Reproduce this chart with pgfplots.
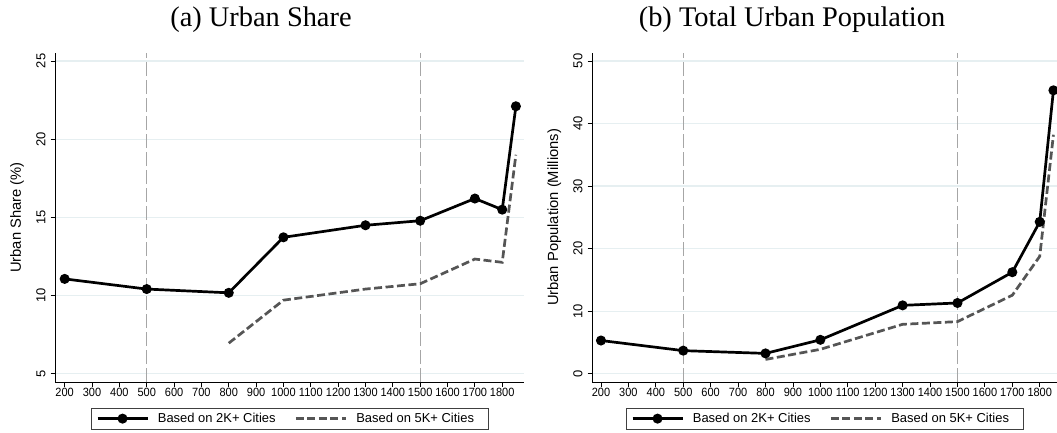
\documentclass[border=0pt]{standalone}
\usepackage{fontspec}
\setmainfont{Liberation Sans}
\newfontfamily\titlefont{Liberation Serif}
\usepackage{pgfplots}
\pgfplotsset{compat=1.18}
\definecolor{gridc}{HTML}{E6EFF1}
\definecolor{vlinec}{HTML}{A6A6A6}
\definecolor{dashc}{HTML}{555555}
\pgfplotsset{
  mystyle/.style={
    scale only axis,
    axis x line*=bottom, axis y line*=left,
    axis line style={black, line width=0.8bp},
    tick align=outside, major tick length=4.5bp,
    every tick/.style={black, line width=0.8bp},
    xtick={200,300,...,1800},
    scaled x ticks=false, scaled y ticks=false,
    /pgf/number format/1000 sep={},
    /pgf/number format/assume math mode=true,
    ymajorgrids, grid style={gridc, line width=1.2bp},
    xticklabel style={font=\fontsize{12}{13}\selectfont, xscale=0.92, inner sep=0pt, anchor=north, yshift=-1.5bp},
    yticklabel style={font=\fontsize{13}{14}\selectfont, rotate=90, anchor=south, inner sep=0pt, yshift=5bp},
    ylabel style={font=\fontsize{14.8}{16}\selectfont, at={(axis description cs:0,0.5)}, anchor=center, yshift=38bp},
    legend columns=2,
    legend style={at={(0.5,-0.078)}, anchor=north, draw=black!75, line width=0.8bp,
      font=\fontsize{13}{15}\selectfont, inner xsep=5bp, inner ysep=3.5bp,
      /tikz/every even column/.append style={column sep=10bp},
      nodes={inner xsep=9bp, inner ysep=1.5bp}},
    legend image code/.code={\draw[mark repeat=2,mark phase=2,##1] plot coordinates {(0bp,0bp) (25bp,0bp) (50bp,0bp)};},
    s2k/.style={black, line width=2.7bp, mark=*, mark size=3.6bp, mark options={solid, fill=black}},
    s5k/.style={dashc, line width=2.7bp, dash pattern=on 8bp off 3.5bp, no markers},
    vl/.style={vlinec, line width=1.3bp, dash pattern=on 14bp off 4bp, forget plot},
  }
}
\begin{document}
\begin{tikzpicture}
\useasboundingbox (0,0) rectangle (1057bp,-433bp);
\node[anchor=base, font=\titlefont\fontsize{28.5}{30}\selectfont] at (261bp,-26bp) {(a) Urban Share};
\node[anchor=base, font=\titlefont\fontsize{28.5}{30}\selectfont] at (792bp,-26bp) {(b) Total Urban Population};
\begin{axis}[mystyle,
  at={(55.1bp,-382.1bp)}, anchor=south west,
  width=469bp, height=329.3bp,
  xmin=165, xmax=1880, ymin=4.46, ymax=25.52,
  ytick={5,10,15,20,25},
  ylabel={Urban Share (\%)}]
\addplot[vl] coordinates {(500,4.46) (500,25.52)};
\addplot[vl] coordinates {(1500,4.46) (1500,25.52)};
\addplot[s2k] coordinates {(200,11.06) (500,10.41) (800,10.17) (1000,13.72) (1300,14.49) (1500,14.78) (1700,16.2) (1800,15.49) (1850,22.1)};
\addlegendentry{Based on 2K+ Cities}
\addplot[s5k] coordinates {(800,6.95) (1000,9.7) (1300,10.41) (1500,10.75) (1700,12.33) (1800,12.12) (1850,19.0)};
\addlegendentry{Based on 5K+ Cities}
\end{axis}
\begin{axis}[mystyle,
  at={(592.2bp,-382.1bp)}, anchor=south west,
  width=464.8bp, height=329.3bp,
  xmin=168, xmax=1863, ymin=-1.35, ymax=51.3,
  ytick={0,10,20,30,40,50},
  ylabel={Urban Population (Millions)}]
\addplot[vl] coordinates {(500,-1.35) (500,51.3)};
\addplot[vl] coordinates {(1500,-1.35) (1500,51.3)};
\addplot[s2k] coordinates {(200,5.3) (500,3.68) (800,3.24) (1000,5.41) (1300,10.92) (1500,11.3) (1700,16.22) (1800,24.27) (1850,45.3)};
\addlegendentry{Based on 2K+ Cities}
\addplot[s5k] coordinates {(800,2.27) (1000,3.89) (1300,7.89) (1500,8.32) (1700,12.54) (1800,18.76) (1850,38.2)};
\addlegendentry{Based on 5K+ Cities}
\end{axis}
\end{tikzpicture}
\end{document}
